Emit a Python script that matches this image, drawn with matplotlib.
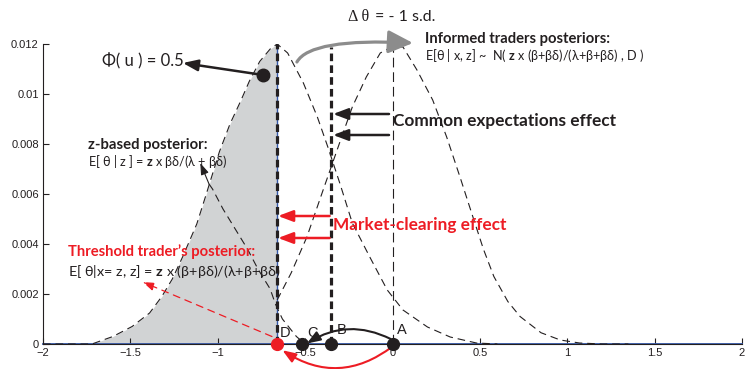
import matplotlib
matplotlib.use("Agg")
import matplotlib.pyplot as plt
from matplotlib.patches import FancyArrowPatch
from matplotlib.path import Path

plt.rcParams['lines.scale_dashes'] = False
plt.rcParams['mathtext.fontset'] = 'custom'
plt.rcParams['mathtext.rm'] = 'Lato'
plt.rcParams['mathtext.bf'] = 'Lato:bold'

# positions of the marked points on the theta axis
pt_A = 0.0
pt_B = -0.35
pt_C = -0.52
pt_D = -0.66
phi_pt = (-0.74, 0.01076)

# threshold density: left half (shaded area) and right half
shade_x = [-2.0, -1.85, -1.72, -1.60, -1.49, -1.39, -1.32, -1.26, -1.20, -1.12, -1.07,
           -1.03, -0.99, -0.93, -0.87, -0.82, -0.76, -0.70, -0.66]
shade_y = [0.0, 0.0, 0.0, 0.0003, 0.0007, 0.00124, 0.0019, 0.0026, 0.0035, 0.0048, 0.0059,
           0.0068, 0.0077, 0.0088, 0.0097, 0.0105, 0.0113, 0.0118, 0.0120]
mid_x = [-0.66, -0.60, -0.51, -0.43, -0.37, -0.30, -0.23, -0.13, -0.03, 0.06, 0.20, 0.33, 0.48, 0.60]
mid_y = [0.0120, 0.01164, 0.01044, 0.00908, 0.00788, 0.0064, 0.00484, 0.00348, 0.00216,
         0.00136, 0.00068, 0.00028, 0.00004, 0.0]

# informed traders posterior
inf_x = [-0.66, -0.58, -0.49, -0.40, -0.30, -0.23, -0.15, -0.07, 0.0, 0.06, 0.14, 0.23, 0.31,
         0.39, 0.45, 0.52, 0.58, 0.66, 0.73, 0.85, 0.96, 1.07, 1.20, 1.35]
inf_y = [0.00176, 0.00284, 0.00428, 0.0061, 0.0081, 0.00948, 0.01068, 0.01164, 0.0119, 0.01188,
         0.01096, 0.00976, 0.00828, 0.0066, 0.0053, 0.0038, 0.0027, 0.0017, 0.0011, 0.00045,
         0.00016, 0.00004, 0.0, 0.0]

# z-based posterior (visible part)
zpost_x = [-1.05, -1.03, -0.97, -0.90, -0.83, -0.77, -0.70, -0.67, -0.63, -0.55, -0.50]
zpost_y = [0.0064, 0.0062, 0.0054, 0.0046, 0.0038, 0.0030, 0.0022, 0.0016, 0.0010, 0.0003, 0.0]

line_top = {'D': 0.0120, 'B': 0.0119, 'A': 0.0119}

x_ticks = [-2, -1.5, -1, -0.5, 0, 0.5, 1, 1.5, 2]
x_tick_labels = ['\u22122', '\u22121.5', '\u22121', '\u22120.5', '0', '0.5', '1', '1.5', '2']
y_ticks = [0, 0.002, 0.004, 0.006, 0.008, 0.01, 0.012]
y_tick_labels = ['0', '0.002', '0.004', '0.006', '0.008', '0.01', '0.012']

RED = '#ED1C24'
INK = '#231F20'
GREY_FILL = '#D1D3D4'
BLUE = '#3558A8'
SANS = ['Lato', 'DejaVu Sans']

fig = plt.figure(figsize=(7.45, 3.69), dpi=100)
ax = fig.add_axes([43 / 745, 25 / 369, 699 / 745, 300 / 369])
ax.set_xlim(-2, 2)
ax.set_ylim(0, 0.012)
for side in ['top', 'right']:
    ax.spines[side].set_visible(False)
ax.spines['left'].set_color(INK)
ax.spines['bottom'].set_color(INK)
ax.set_xticks(x_ticks)
ax.set_xticklabels(x_tick_labels)
ax.set_yticks(y_ticks)
ax.set_yticklabels(y_tick_labels)
ax.tick_params(direction='in', length=4, width=0.8, labelsize=8, colors=INK, pad=3)
for lab in ax.get_xticklabels() + ax.get_yticklabels():
    lab.set_fontfamily('Liberation Sans')

# shaded mass below the threshold
ax.fill_between(shade_x, shade_y, 0, color=GREY_FILL, lw=0, zorder=1)
ax.plot([-2, 2], [0, 0], color=BLUE, lw=1.3, zorder=2, clip_on=False)
ax.plot([pt_D, pt_D], [0, line_top['D']], color=BLUE, lw=1.0, zorder=2)

thin = dict(color=INK, lw=0.8, dashes=(5.5, 3.5), zorder=3)
ax.plot(shade_x + mid_x[1:], shade_y + mid_y[1:], **thin)
ax.plot(inf_x, inf_y, **thin)
ax.plot(zpost_x, zpost_y, **thin)

# vertical markers
ax.plot([pt_D, pt_D], [0, line_top['D']], color=INK, lw=2.3, dashes=(5.5, 3), zorder=3)
ax.plot([pt_B, pt_B], [0, line_top['B']], color=INK, lw=2.3, dashes=(5.5, 3), zorder=3)
ax.plot([pt_A, pt_A], [0, line_top['A']], color=INK, lw=0.8, dashes=(7, 3.5), zorder=3)


def arrow(tail, tip, color=INK, lw=1.8, hl=0.45, hw=0.17, rad=0.0, ls='-', scale=20):
    p = FancyArrowPatch(tail, tip, arrowstyle='-|>,head_length=%g,head_width=%g' % (hl, hw),
                        connectionstyle='arc3,rad=%g' % rad, color=color, lw=lw,
                        linestyle=ls, mutation_scale=scale, shrinkA=0, shrinkB=0,
                        zorder=6, clip_on=False)
    ax.add_patch(p)


# common expectations effect
arrow((-0.02, 0.0092), (-0.34, 0.0092))
arrow((-0.02, 0.00836), (-0.34, 0.00836))
# market-clearing effect
arrow((-0.36, 0.00512), (-0.655, 0.00512), color=RED)
arrow((-0.36, 0.00424), (-0.655, 0.00424), color=RED)
# Phi(u) pointer
arrow((phi_pt[0], phi_pt[1]), (-1.2, 0.01124), lw=1.8)
# shift of the informed posterior
gp = Path([(-0.547, 0.01128), (-0.47, 0.01224), (0.117, 0.01204)],
          [Path.MOVETO, Path.CURVE3, Path.CURVE3])
ax.add_patch(FancyArrowPatch(path=gp, arrowstyle='-|>,head_length=0.75,head_width=0.35',
                             mutation_scale=20, color='#8C8C8C', lw=2.3, zorder=6,
                             clip_on=False))
# A -> C and A -> D
arrow((pt_A - 0.01, 0.0002), (pt_C + 0.03, 0.00002), lw=1.5, rad=0.28, hl=0.4, hw=0.15)
arrow((pt_A, -0.0001), (pt_D + 0.03, -0.00025), color=RED, lw=1.5, rad=-0.35, hl=0.4, hw=0.15)
# threshold trader pointer
arrow((pt_D - 0.03, 0.0003), (-1.43, 0.00248), color=RED, lw=0.9, ls=(0, (5, 4)),
      hl=0.35, hw=0.12)
# z-based pointer
arrow((-1.05, 0.0064), (-1.1, 0.00724), lw=0.8, hl=0.35, hw=0.12)

# points
ax.plot([pt_A, pt_B, pt_C], [0, 0, 0], 'o', color=INK, ms=8.5, zorder=7, clip_on=False)
ax.plot([pt_D], [0], 'o', color=RED, ms=8.5, zorder=7, clip_on=False)
ax.plot([phi_pt[0]], [phi_pt[1]], 'o', color=INK, ms=9, zorder=7)

for name, xx, yy in [('D', -0.615, 0.00044), ('C', -0.46, 0.00044),
                     ('B', -0.289, 0.00056), ('A', 0.054, 0.00056)]:
    ax.text(xx, yy, name, ha='center', va='center', fontsize=10.5, color=INK,
            family='Liberation Sans', zorder=8)

# annotations
ax.text(-0.255, 0.01308, '\u0394 \u03b8', ha='left', va='center', fontsize=11.5,
        family=['Liberation Serif', 'DejaVu Serif'], color=INK, clip_on=False)
ax.text(-0.10, 0.01308, '= - 1 s.d.', ha='left', va='center', fontsize=11.5,
        family=SANS, color=INK, clip_on=False)
ax.text(-1.662, 0.01132, '\u03a6( u ) = 0.5', ha='left', va='center', fontsize=12,
        family=SANS, color=INK)

ax.text(0.186, 0.0122, 'Informed traders posteriors:', ha='left', va='center',
        fontsize=10.6, fontweight='bold', family=SANS, color=INK, clip_on=False)
ax.text(0.186, 0.01152,
        'E[\u03b8 | x, z] ~  N( $\\mathbf{z}$ x (\u03b2+\u03b2\u03b4)/(\u03bb+\u03b2+\u03b2\u03b4) , D )',
        ha='left', va='center', fontsize=9.1, family=SANS, color=INK)

ax.text(0.003, 0.00892, 'Common expectations effect', ha='left', va='center',
        fontsize=12.4, fontweight='bold', family=SANS, color=INK)
ax.text(-0.34, 0.00476, 'Market-clearing effect', ha='left', va='center',
        fontsize=12.4, fontweight='bold', family=SANS, color=RED)

ax.text(-1.742, 0.00796, 'z-based posterior:', ha='left', va='center',
        fontsize=10.7, fontweight='bold', family=SANS, color=INK)
ax.text(-1.742, 0.0073,
        'E[ \u03b8 | z ] = $\\mathbf{z}$ x \u03b2\u03b4/(\u03bb + \u03b2\u03b4)',
        ha='left', va='center', fontsize=9.1, family=SANS, color=INK)

ax.text(-1.857, 0.00368, 'Threshold trader\u2019s posterior:', ha='left', va='center',
        fontsize=10.6, fontweight='bold', family=SANS, color=RED)
ax.text(-1.857, 0.00288,
        'E[ \u03b8|x= z, z] = $\\mathbf{z}$ x (\u03b2+\u03b2\u03b4)/(\u03bb+\u03b2+\u03b2\u03b4)',
        ha='left', va='center', fontsize=10.4, family=SANS, color=INK)

fig.savefig('out.png', dpi=100)
